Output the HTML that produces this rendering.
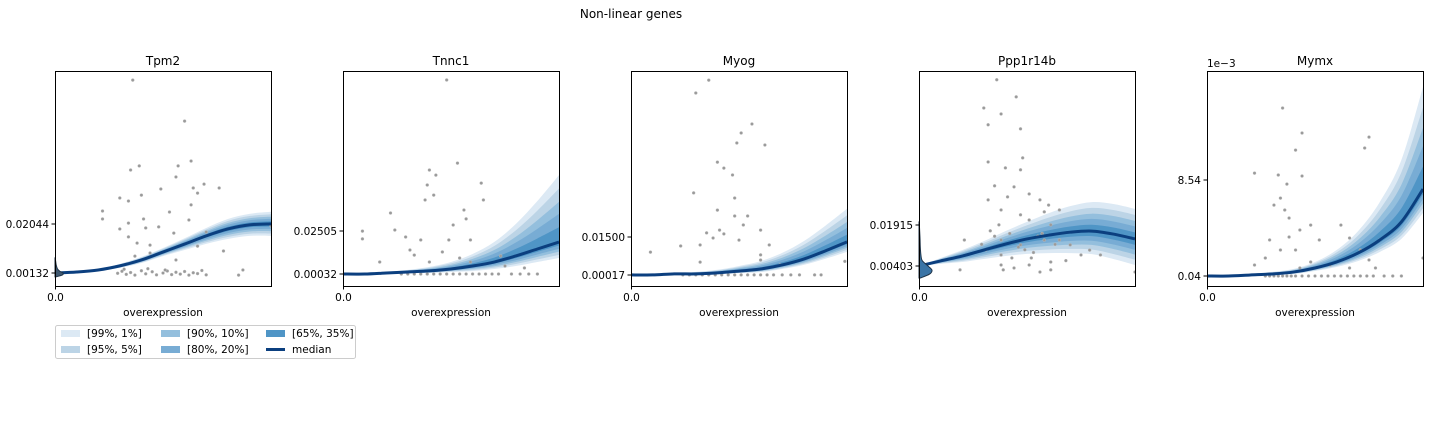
<!DOCTYPE html>
<html><head><meta charset="utf-8"><style>
body{margin:0;background:#fff;}
svg{display:block;font-family:"DejaVu Sans","Liberation Sans",sans-serif;}
</style></head><body>
<svg id="fig" width="1430" height="437" viewBox="0 0 1430 437" xmlns="http://www.w3.org/2000/svg">
<text x="631" y="18" font-size="12" text-anchor="middle" fill="#000">Non-linear genes</text>
<g id="panels"></g>
<g>
<rect x="55.5" y="325.5" width="300" height="33" rx="2" fill="#fff" stroke="#ccc"/>
<rect x="61" y="330" width="19" height="7" fill="#dce9f4"/>
<text x="87" y="337" font-size="10.5">[99%, 1%]</text>
<rect x="61" y="346" width="19" height="7" fill="#bcd4e6"/>
<text x="87" y="353" font-size="10.5">[95%, 5%]</text>
<rect x="161" y="330" width="19" height="7" fill="#94bfdd"/>
<text x="187" y="337" font-size="10.5">[90%, 10%]</text>
<rect x="161" y="346" width="19" height="7" fill="#78acd4"/>
<text x="187" y="353" font-size="10.5">[80%, 20%]</text>
<rect x="266" y="330" width="19" height="7" fill="#4f95c6"/>
<text x="292" y="337" font-size="10.5">[65%, 35%]</text>
<line x1="266" y1="349.5" x2="285" y2="349.5" stroke="#0b3f7f" stroke-width="3"/>
<text x="292" y="353" font-size="10.5">median</text>
</g>
</svg>
<script>
const gridX = [0,0.1,0.2,0.3,0.4,0.5,0.6,0.7,0.8,0.9,1];
const bandFactors = [1,0.8,0.6,0.42,0.22];
const bandColors = ["#dce9f4","#bcd4e6","#94bfdd","#78acd4","#4f95c6"];
const geneNames = ["Tpm2","Tnnc1","Myog","Ppp1r14b","Mymx"];
const tickValues = [[0.00132,0.02044],[0.00032,0.02505],[0.00017,0.015],[0.00403,0.01915],[0.04,8.54]];
const tickLabels = [["0.00132","0.02044"],["0.00032","0.02505"],["0.00017","0.01500"],["0.00403","0.01915"],["0.04","8.54"]];

const median1 = [0.0013,0.0017,0.0025,0.0041,0.0064,0.0095,0.0126,0.0158,0.0185,0.0201,0.0205];
const up1 = [0,0.0004,0.0004,0.0008,0.0012,0.0016,0.0023,0.0031,0.0039,0.0043,0.0047];
const lo1 = [0,0.0004,0.0004,0.0008,0.0012,0.0016,0.0023,0.0031,0.0039,0.0043,0.0047];
const median2 = [0.0003,0.0003,0.0009,0.0015,0.0021,0.0032,0.0049,0.0072,0.0107,0.0147,0.0187];
const up2 = [0,0,0.0006,0.0012,0.0023,0.004,0.0069,0.0115,0.0184,0.0276,0.0385];
const lo2 = [0,0,0.0006,0.0006,0.0012,0.0017,0.0029,0.004,0.0058,0.0075,0.0092];
const median3 = [0.0002,0.0002,0.0006,0.0006,0.001,0.0017,0.0025,0.0041,0.0064,0.0096,0.0131];
const up3 = [0,0,0.0004,0.0008,0.0012,0.002,0.0031,0.0047,0.007,0.0098,0.0129];
const lo3 = [0,0,0,0.0004,0.0004,0.0008,0.0012,0.0016,0.0023,0.0031,0.0039];
const median4 = [0.004,0.0059,0.0077,0.0099,0.0121,0.014,0.0154,0.0165,0.0169,0.0158,0.014];
const up4 = [0,0.0011,0.0022,0.0033,0.0048,0.0063,0.0081,0.0096,0.0107,0.0111,0.0111];
const lo4 = [0,0.0011,0.0022,0.0033,0.0044,0.0055,0.0066,0.0077,0.0085,0.0092,0.0096];
const median5 = [0.04,0.04,0.13,0.22,0.39,0.75,1.28,2.08,3.23,4.83,7.74];
const up5 = [0,0,0.09,0.18,0.27,0.53,1.06,1.95,3.36,5.49,9.03];
const lo5 = [0,0,0,0.09,0.18,0.27,0.44,0.71,1.06,1.5,2.12];

const pointsX1 = [.36,.60,.63,.57,.35,.39,.56,.69,.76,.49,.64,.66,.40,.30,.34,.63,.22,.22,.53,.62,.41,.34,.42,.48,.30,.34,.38,.44,.55,.66,.70,.78,.37,.44,.56,1.0,.85,.87,.29,.31,.33,.35,.37,.40,.42,.45,.47,.50,.52,.54,.56,.58,.60,.62,.64,.66,.68,.70,.32,.43,.51];
const pointsY1 = [.0766,.0606,.045,.0431,.0415,.0431,.0388,.036,.0345,.0341,.0345,.0325,.0317,.0306,.0294,.0279,.0255,.0224,.0251,.022,.0224,.0208,.0189,.0193,.0185,.0154,.013,.0122,.0169,.0118,.0173,.0099,.0079,.0091,.0064,.0197,.0005,.0025,.0012,.0020,.0008,.0015,.0005,.0022,.0010,.0018,.0006,.0013,.0021,.0007,.0016,.0009,.0019,.0005,.0014,.0011,.0023,.0006,.0028,.0030,.0025];
const pointsX2 = [.48,.53,.40,.43,.39,.38,.42,.56,.64,.65,.22,.24,.51,.49,.29,.36,.46,.54,.59,.57,.40,.59,.09,.09,.31,.73,.75,.17,.33,.84,.27,.30,.33,.36,.39,.42,.45,.48,.51,.54,.57,.60,.63,.66,.69,.72,.78,.82,.86,.90,0];
const pointsY2 = [.1119,.0641,.0601,.0572,.0515,.0429,.0457,.0371,.0526,.0429,.0354,.0256,.0285,.0199,.0216,.0199,.013,.0095,.0199,.032,.0072,.0072,.025,.0205,.0141,.0107,.0049,.0072,.0112,.0038,.0003,.0003,.0003,.0003,.0003,.0003,.0003,.0003,.0003,.0003,.0003,.0003,.0003,.0003,.0003,.0003,.0003,.0003,.0003,.0003,.0003];
const pointsX3 = [.36,.30,.51,.56,.40,.49,.62,.43,.47,.29,.48,.40,.54,.48,.41,.52,.60,.35,.38,.43,.50,.32,.23,.64,.60,.69,.60,.09,.32,.88,.85,.24,.27,.30,.33,.36,.39,.42,.45,.48,.51,.54,.57,.60,.63,.66,.70,.74,.78,0,.99];
const pointsY3 = [.0762,.0712,.0556,.0591,.0442,.0517,.0509,.0419,.0392,.0322,.0302,.0255,.0232,.0232,.0177,.0197,.0177,.0166,.0146,.0162,.0138,.0119,.0115,.0119,.006,.0041,.008,.0091,.0052,.0002,.0002,.0002,.0002,.0002,.0002,.0002,.0002,.0002,.0002,.0002,.0002,.0002,.0002,.0002,.0002,.0002,.0002,.0002,.0002,.0002,.0055];
const pointsX4 = [.36,.45,.30,.38,.32,.47,.40,.48,.32,.47,.35,.44,.41,.51,.32,.56,.38,.58,.47,.60,.65,.37,.51,.61,.58,.38,.47,.65,.70,.79,.84,.38,.51,.61,.39,.44,.56,.61,.38,.19,1.0,.75,.21,.33,.35,.42,.46,.49,.53,.55,.29,.31,.43,.52,.57,.63,.68];
const pointsY4 = [.0727,.0664,.0623,.0601,.0561,.0546,.0402,.0439,.0424,.0395,.0336,.0332,.0295,.0306,.0284,.0284,.0247,.024,.0229,.0265,.0247,.0192,.021,.0192,.0136,.0136,.0118,.0136,.0118,.0099,.0081,.0081,.0044,.0055,.0026,.0033,.0018,.0026,.0044,.0026,.0018,.0081,.0136,.0170,.0150,.0160,.0110,.0100,.0090,.0150,.0120,.0100,.0070,.0070,.0160,.0120,.0060];
const pointsX5 = [.35,.44,.41,.33,.37,.44,.22,.34,.36,.38,.31,.43,.38,.48,.29,.41,.52,.34,.62,.66,.71,.27,.48,.57,.75,.80,.43,.66,1.0,.22,.78,.75,.73,.27,.29,.31,.33,.35,.37,.39,.41,.44,.47,.50,.53,.56,.59,.62,.65,.68,.71,.74,.77,.82,.86,.90];
const pointsY5 = [14.91,12.7,11.19,8.98,8.18,8.89,9.15,6.94,5.88,5.17,6.32,4.11,3.49,4.55,3.23,2.34,3.23,2.34,4.55,3.40,2.34,1.63,1.28,1.01,1.46,3.23,.75,.75,1.63,1.01,.75,12.34,11.37,.04,.04,.04,.04,.04,.04,.04,.04,.04,.04,.04,.04,.04,.04,.04,.04,.04,.04,.04,.04,.04,.04,.04];

const violinLevels1 = [-0.0002,0.0005,0.0013,0.002,0.003,0.0045,0.006,0.0072];
const violinDensity1 = [0.1,0.9,1,0.6,0.3,0.15,0.08,0.02];
const violinLevels4 = [-0.0004,0.001,0.0025,0.004,0.006,0.008,0.011,0.014,0.017,0.0203];
const violinDensity4 = [0.1,0.8,1,0.7,0.25,0.15,0.1,0.08,0.05,0.02];

const medians = [median1,median2,median3,median4,median5];
const ups = [up1,up2,up3,up4,up5];
const los = [lo1,lo2,lo3,lo4,lo5];
const ptsX = [pointsX1,pointsX2,pointsX3,pointsX4,pointsX5];
const ptsY = [pointsY1,pointsY2,pointsY3,pointsY4,pointsY5];
const violins = {0:[violinLevels1,violinDensity1,8,"#3f5870"],3:[violinLevels4,violinDensity4,13,"#3a74a6"]};

const boxLeft = [55,343,631,919,1207];
const boxW = 216, boxTop = 71, boxBottom = 286;
const tickPx = [[273,224],[274,231],[275,237],[266,225],[276,180]];

const NS = "http://www.w3.org/2000/svg";
function mk(tag, attrs, parent){const e=document.createElementNS(NS,tag);for(const k in attrs)e.setAttribute(k,attrs[k]);parent.appendChild(e);return e;}
function smooth(pts){
  let d = "M"+pts[0][0].toFixed(2)+","+pts[0][1].toFixed(2);
  for(let i=0;i<pts.length-1;i++){
    const p0=pts[Math.max(i-1,0)],p1=pts[i],p2=pts[i+1],p3=pts[Math.min(i+2,pts.length-1)];
    const c1=[p1[0]+(p2[0]-p0[0])/6,p1[1]+(p2[1]-p0[1])/6];
    const c2=[p2[0]-(p3[0]-p1[0])/6,p2[1]-(p3[1]-p1[1])/6];
    d+="C"+c1[0].toFixed(2)+","+c1[1].toFixed(2)+" "+c2[0].toFixed(2)+","+c2[1].toFixed(2)+" "+p2[0].toFixed(2)+","+p2[1].toFixed(2);
  }
  return d;
}
const root = document.getElementById("panels");
for(let p=0;p<5;p++){
  const x0 = boxLeft[p];
  const xs = v => x0 + v*boxW;
  const tv = tickValues[p], tp = tickPx[p];
  const ys = v => tp[0] + (v-tv[0])/(tv[1]-tv[0])*(tp[1]-tp[0]);
  const g = mk("g",{},root);
  
  
  const cp = mk("clipPath",{id:"clip"+p},g);
  mk("rect",{x:x0,y:boxTop,width:boxW,height:boxBottom-boxTop},cp);
  const plot = mk("g",{"clip-path":"url(#clip"+p+")"},g);
  const med = medians[p], up = ups[p], lo = los[p];
  for(let b=0;b<bandFactors.length;b++){
    const f = bandFactors[b];
    const upper = gridX.map((x,i)=>[xs(x),ys(med[i]+up[i]*f)]);
    const lower = gridX.map((x,i)=>[xs(x),ys(med[i]-lo[i]*f)]).reverse();
    let d = smooth(upper) + smooth(lower).replace("M","L") + "Z";
    const band = mk("path",{d:d,fill:bandColors[b],stroke:"none"},plot);
    
    
  }
  for(let i=0;i<ptsX[p].length;i++){
    const c = mk("circle",{cx:xs(ptsX[p][i]),cy:ys(ptsY[p][i]),r:1.5,fill:"#9a9a9a",stroke:"#bbb","stroke-width":0.4},plot);
    
    
  }
  const ml = mk("path",{d:smooth(gridX.map((x,i)=>[xs(x),ys(med[i])])),fill:"none",stroke:"#0b3f7f","stroke-width":3},plot);
  
  
  if(violins[p]){
    const [lv,dn,wMax,col]=violins[p];
    const right = lv.map((v,i)=>[x0+dn[i]*wMax,ys(v)]);
    let d = "M"+x0+","+ys(lv[0])+" "+smooth(right).replace("M","L")+" L"+x0+","+ys(lv[lv.length-1])+"Z";
    const vi = mk("path",{d:d,fill:col,stroke:"#1f3347","stroke-width":1},g);
    
    
  }
  const fr = mk("rect",{x:x0+0.5,y:boxTop+0.5,width:boxW,height:boxBottom-boxTop,fill:"none",stroke:"#000","stroke-width":1},g);
  
  
  const t = mk("text",{x:x0+boxW/2,y:65,"font-size":12,"text-anchor":"middle"},g);
  t.textContent = geneNames[p];
  
  
  for(let k=0;k<2;k++){
    const y = ys(tv[k]);
    mk("line",{x1:x0-3.5,x2:x0,y1:y,y2:y,stroke:"#000"},g);
    const tl = mk("text",{x:x0-6,y:y+4,"font-size":10.5,"text-anchor":"end"},g);
    tl.textContent = tickLabels[p][k];
    
    
  }
  mk("line",{x1:x0+0.5,x2:x0+0.5,y1:boxBottom,y2:boxBottom+3.5,stroke:"#000"},g);
  const xl = mk("text",{x:x0+0.5,y:301,"font-size":10.5,"text-anchor":"middle"},g);
  xl.textContent = "0.0";
  
  
  const xt = mk("text",{x:x0+boxW/2,y:316,"font-size":10.5,"text-anchor":"middle"},g);
  xt.textContent = "overexpression";
  
  
  if(p===4){
    const ot = mk("text",{x:x0,y:67,"font-size":10.5},g);
    ot.textContent = "1e\u22123";
    
    
  }
}
</script>
</body></html>
